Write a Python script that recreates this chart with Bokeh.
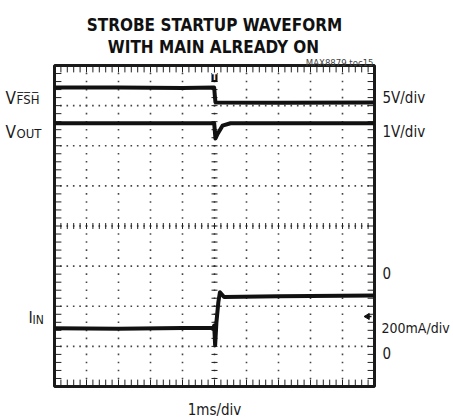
import numpy as np
from bokeh.plotting import figure
from bokeh.models import Range1d
from bokeh.core.properties import value
from bokeh.embed import file_html
from bokeh.resources import INLINE

# ---- data (in scope divisions: x = ms, y = divisions from bottom) ----
vfsh_t = [0.0, 2.0, 4.0, 4.99, 5.01, 5.03, 7.0, 10.0]
vfsh_v = [7.45, 7.45, 7.44, 7.45, 7.25, 7.08, 7.07, 7.08]

vout_t = [0.0, 2.0, 4.99, 5.03, 5.1, 5.25, 5.5, 10.0]
vout_v = [6.56, 6.56, 6.56, 6.18, 6.3, 6.5, 6.56, 6.56]

iin_t = [0.0, 2.0, 4.0, 4.97, 4.99, 5.02, 5.06, 5.12, 5.17, 5.3, 7.0, 10.0]
iin_v = [1.45, 1.44, 1.46, 1.46, 1.52, 1.03, 1.6, 2.1, 2.35, 2.23, 2.25, 2.27]

x_divs = 10
y_divs = 8

FONT = "DejaVu Sans Condensed"
W, H = 453, 419

# page px -> division coordinates (layout helpers)
def X(px):
    return (px - 54) / 32.0

def Y(py):
    return (386 - py) / 40.125

p = figure(width=W, height=H, min_border=0,
           x_range=Range1d(X(0), X(W)), y_range=Range1d(Y(H), Y(0)),
           output_backend="svg", toolbar_location=None, tools="")
p.xaxis.visible = False
p.yaxis.visible = False
p.xgrid.visible = False
p.ygrid.visible = False
p.outline_line_color = None
p.background_fill_color = "white"
p.border_fill_color = "white"

dot_color = "#444444"
# dotted grid
gx, gy = [], []
for k in range(1, x_divs):
    for yy in np.arange(0, y_divs + 0.001, 0.2):
        gx.append(k); gy.append(yy)
for k in range(1, y_divs):
    for xx in np.arange(0, x_divs + 0.001, 0.2):
        gx.append(xx); gy.append(k)
p.scatter(gx, gy, marker="square", size=1.6, color=dot_color, line_width=0)

# minor ticks on center lines and edges
tx = np.arange(0, x_divs + 0.001, 0.2)
ty = np.arange(0, y_divs + 0.001, 0.2)
hx = 3.0 / 32.0
hy = 3.0 / 40.125
p.segment(x0=tx, y0=4 - hy, x1=tx, y1=4 + hy, color="#222", line_width=1)
p.segment(x0=5 - hx, y0=ty, x1=5 + hx, y1=ty, color="#222", line_width=1)
p.segment(x0=tx, y0=0, x1=tx, y1=2.3 * hy, color="#222", line_width=1)
p.segment(x0=tx, y0=y_divs, x1=tx, y1=y_divs - 2.3 * hy, color="#222", line_width=1)
p.segment(x0=0, y0=ty, x1=2.3 * hx, y1=ty, color="#222", line_width=1)
p.segment(x0=x_divs, y0=ty, x1=x_divs - 2.3 * hx, y1=ty, color="#222", line_width=1)

# frame box
p.quad(left=[0], right=[x_divs], bottom=[0], top=[y_divs], fill_color=None,
       line_color="#1a1a1a", line_width=3)

# traces
for t, v in ((vfsh_t, vfsh_v), (vout_t, vout_v), (iin_t, iin_v)):
    p.line(t, v, color="#111111", line_width=4, line_join="round")

# trigger marker
p.rect(x=[5.0], y=[Y(77)], width=6 / 32.0, height=9 / 40.125, color="#111", line_width=0)
p.text(x=[5.0], y=[Y(77)], text=["T"], text_color="white", text_font_size="8px",
       text_font=value(FONT), text_font_style="bold", text_align="center",
       text_baseline="middle")

# ground arrow on right
p.scatter([X(367)], [Y(316)], marker="triangle", angle=np.pi / 2, size=6, color="#111")
p.segment(x0=[X(367)], y0=[Y(316)], x1=[X(371)], y1=[Y(316)], color="#111", line_width=1.5)


def lab(text, px, py, size, align="left", style="normal", color="#1a1a1a"):
    p.text(x=[X(px)], y=[Y(py)], text=[text], text_font=value(FONT),
           text_font_size=f"{size}px", text_font_style=style,
           text_align=align, text_baseline="alphabetic", text_color=color)

lab("STROBE STARTUP WAVEFORM", 214, 24, 17, "center", "bold", "#111")
lab("WITH MAIN ALREADY ON", 213, 46, 17, "center", "bold", "#111")
lab("MAX8879 toc15", 373, 61.5, 9.5, "right", "normal", "#444")

lab("V", 5, 97, 17)
lab("F\u0305S\u0305H\u0305", 16, 99, 13)
lab("V", 5, 131, 17)
lab("OUT", 16, 133, 13)
lab("I", 28, 317, 16)
lab("IN", 32, 319, 12)

lab("5V/div", 382, 97, 15)
lab("1V/div", 382, 131, 15)
lab("0", 382, 272, 15)
lab("200mA/div", 381, 327, 14)
lab("0", 382, 352, 15)
lab("1ms/div", 214, 409, 15, "center")

open("out.html", "w").write(file_html(p, INLINE))
